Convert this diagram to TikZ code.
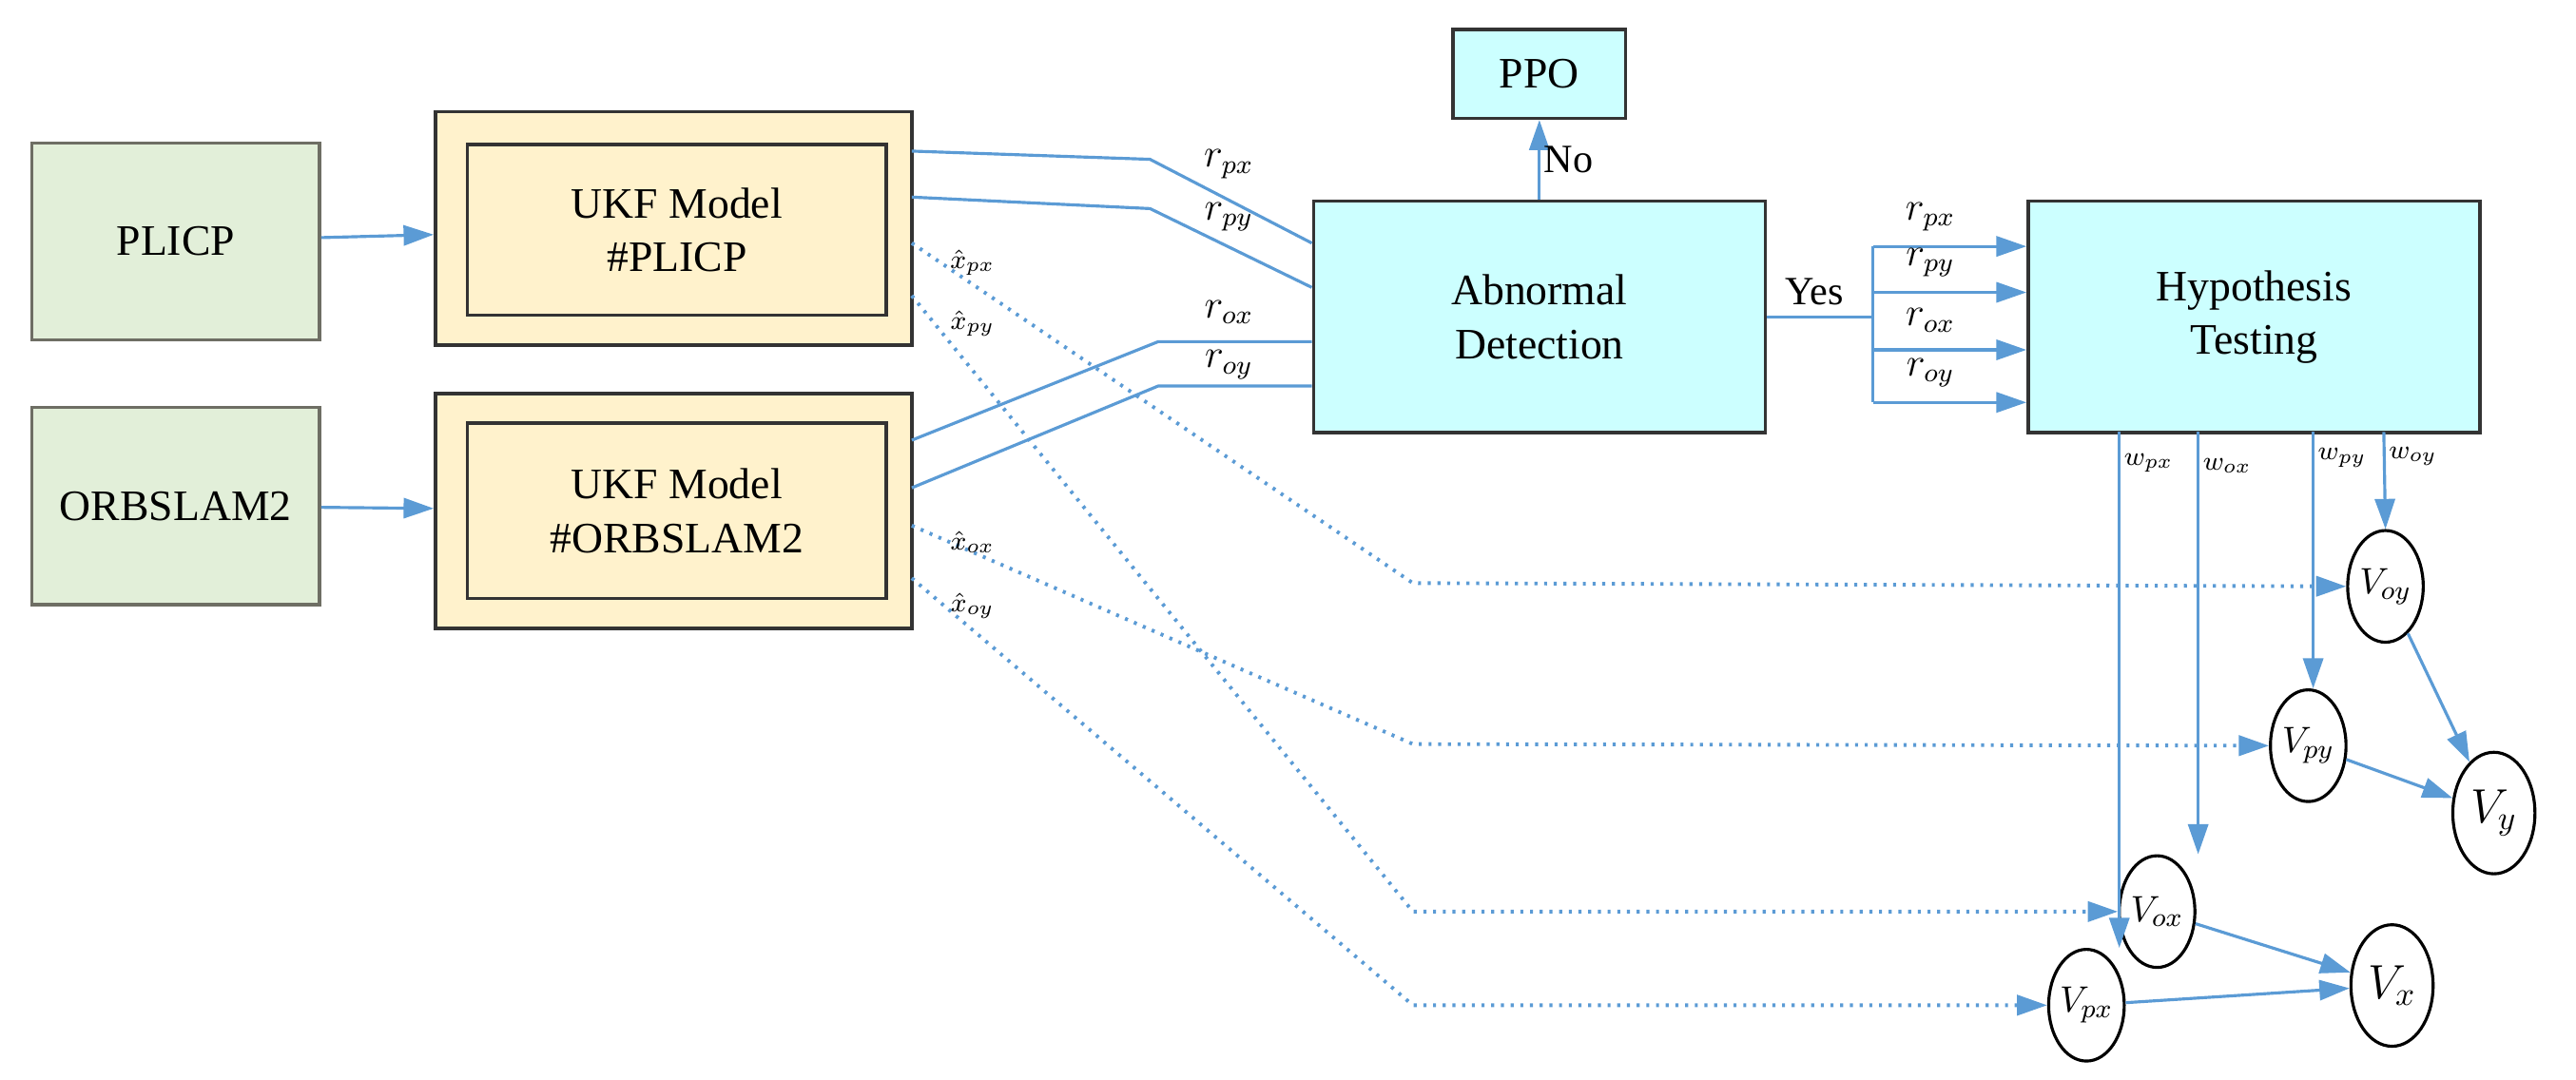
\documentclass[tikz,border=0pt]{standalone}
\usepackage{fontspec}
\setmainfont{Liberation Serif}
\usetikzlibrary{arrows.meta,shapes.geometric}
\definecolor{lnc}{RGB}{91,155,213}
\newcommand{\uu}{0.017277cm}
\begin{document}
\begin{tikzpicture}[x=\uu,y=-\uu,
  ln/.style={draw=lnc, line width=0.9pt},
  ar/.style={ln,-{Triangle[length=9pt,width=6pt,fill=lnc]}},
  dt/.style={ln,dotted,line width=1.1pt},
  dar/.style={dt,-{Triangle[length=9pt,width=6pt,fill=lnc]}},
  gbox/.style={draw={rgb,255:red,110;green,110;blue,100},line width=1pt,fill={rgb,255:red,226;green,239;blue,217},font=\fontsize{13}{16}\selectfont},
  ybox/.style={draw=black!80,line width=1pt,fill={rgb,255:red,255;green,242;blue,204}},
  cbox/.style={draw=black!80,line width=1pt,fill={rgb,255:red,204;green,255;blue,255},font=\fontsize{13}{16}\selectfont,align=center},
  circ/.style={draw,ellipse,line width=0.9pt,minimum width=46*\uu,minimum height=68*\uu,inner sep=0pt,font=\fontsize{11}{13}\selectfont},
  lab/.style={font=\fontsize{12}{14}\selectfont,inner sep=1pt},
  sl/.style={font=\fontsize{8.5}{10}\selectfont,inner sep=1pt}]
\useasboundingbox (0,0) rectangle (1568,657.5);
\node[gbox,minimum width=175*\uu,minimum height=120*\uu] (plicp) at (107,147) {PLICP};
\node[gbox,minimum width=175*\uu,minimum height=120*\uu] (orb) at (107,308) {ORBSLAM2};
\node[ybox,minimum width=290*\uu,minimum height=142*\uu] (u1) at (410,139) {};
\node[ybox,minimum width=255*\uu,minimum height=104*\uu,font=\fontsize{13}{16}\selectfont,align=center] (u1i) at (412,140) {UKF Model\\\#PLICP};
\node[ybox,minimum width=290*\uu,minimum height=143*\uu] (u2) at (410,311) {};
\node[ybox,minimum width=255*\uu,minimum height=107*\uu,font=\fontsize{13}{16}\selectfont,align=center] (u2i) at (412,311) {UKF Model\\\#ORBSLAM2};
\node[cbox,minimum width=275*\uu,minimum height=141*\uu] (ad) at (937,193) {Abnormal\\Detection};
\node[cbox,minimum width=105*\uu,minimum height=54*\uu] (ppo) at (937,45) {PPO};
\node[cbox,minimum width=275*\uu,minimum height=141*\uu] (ht) at (1372,193) {Hypothesis\\Testing};
\node[circ] (voy) at (1452,357) {$V_{oy}$};
\node[circ] (vpy) at (1405,454) {$V_{py}$};
\node[circ] (vox) at (1313,555) {$V_{ox}$};
\node[circ] (vpx) at (1270,612) {$V_{px}$};
\node[circ,minimum width=50*\uu,minimum height=74*\uu,font=\fontsize{14}{16}\selectfont] (vy) at (1518,495) {$V_y$};
\node[circ,minimum width=50*\uu,minimum height=74*\uu,font=\fontsize{14}{16}\selectfont] (vx) at (1456,600) {$V_x$};
% inputs
\draw[ar] (plicp) -- (u1);
\draw[ar] (orb) -- (u2);
% residuals
\draw[ln] (555,92) -- (700,97) -- (ad.west|-0,148);
\draw[ln] (555,120) -- (700,127) -- (ad.west|-0,175);
\draw[ln] (555,268) -- (705,208) -- (ad.west|-0,208);
\draw[ln] (555,297) -- (705,235) -- (ad.west|-0,235);
\node[lab] at (748,100) {$r_{px}$};
\node[lab] at (748,132) {$r_{py}$};
\node[lab] at (748,190) {$r_{ox}$};
\node[lab] at (748,222) {$r_{oy}$};
% no / yes
\draw[ar] (ad.north) -- (ppo.south) node[lab,midway,right] {No};
\coordinate (yb) at (1140,193);
\draw[ln] (ad.east|-yb) -- (yb) node[lab,pos=0.45,above=2pt] {Yes};
\draw[ln] (1140,150) -- (1140,245);
\foreach \yy/\ll in {150/px,178/py,213/ox,245/oy}{
  \draw[ar] (1140,\yy) -- (ht.west|-0,\yy);
  \node[lab] at (1175,\yy-18) {$r_{\ll}$};
}
% w arrows
\draw[ar] (1290,263) -- (vpx.north-|1290,0) node[sl,pos=0.06,right] {$w_{px}$};
\draw[ar] (1338,263) -- (vox.north-|1338,0) node[sl,pos=0.08,right] {$w_{ox}$};
\draw[ar] (1408,263) -- (vpy.north-|1408,0) node[sl,pos=0.1,right] {$w_{py}$};
\draw[ar] (1451,263) -- (voy.north) node[sl,pos=0.25,right] {$w_{oy}$};
% dotted estimates
\draw[dar] (555,148) -- (860,355) -- (voy.west);
\draw[dar] (555,180) -- (860,555) -- (vox.west);
\draw[dar] (555,320) -- (860,453) -- (vpy.west);
\draw[dar] (555,352) -- (860,612) -- (vpx.west);
\node[sl] at (592,160) {$\hat{x}_{px}$};
\node[sl] at (592,197) {$\hat{x}_{py}$};
\node[sl] at (592,330) {$\hat{x}_{ox}$};
\node[sl] at (592,369) {$\hat{x}_{oy}$};
% combine
\draw[ar] (voy) -- (vy);
\draw[ar] (vpy) -- (vy);
\draw[ar] (vox) -- (vx);
\draw[ar] (vpx) -- (vx);
\end{tikzpicture}
\end{document}
